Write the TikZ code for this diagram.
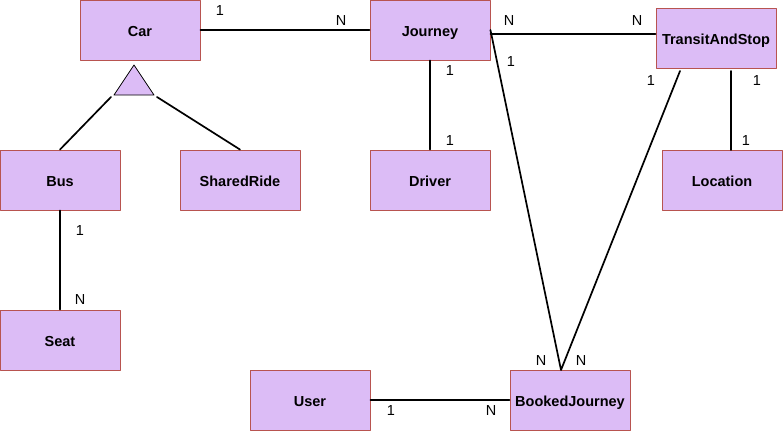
\documentclass[tikz,border=0pt]{standalone}
\usepackage{fontspec}
\setmainfont{Liberation Sans}
\definecolor{boxfill}{HTML}{DCBCF6}
\definecolor{boxline}{HTML}{B85450}
\tikzset{
	entity/.style={draw=boxline,fill=boxfill,line width=.9pt,minimum width=120pt,minimum height=60pt,inner sep=0pt,text height=13.6pt,text depth=0pt,font=\fontsize{14.5}{16}\selectfont\bfseries},
	rel/.style={line width=1.7pt},
	card/.style={inner sep=0pt,font=\fontsize{14.5}{16}\selectfont}
}
\begin{document}
\begin{tikzpicture}[x=1pt,y=-1pt,line join=round,line cap=round]
	\useasboundingbox (0,0) rectangle (783,431);
	\foreach \n/\x/\y/\t in {car/140/30/Car,journey/430/30/Journey,transit/716/38/TransitAndStop,
		bus/60/180/Bus,shared/240/180/SharedRide,driver/430/180/Driver,location/722/180/Location,
		seat/60/340/Seat,user/310/400/User,booked/570/400/BookedJourney}
	\node[entity] (\n) at (\x,\y) {\t};
	\path
	(134,65) coordinate (T)
	(154,95) coordinate (T1)
	(114,95) coordinate (T2)
	(111,97) coordinate (TL)
	(157,97) coordinate (TR)
	(561,370) coordinate (B)
	(680,71) coordinate (S1)
	(731,71) coordinate (S2)
	(731,150) coordinate (L)
	;
	\draw[fill=boxfill,line width=.8pt] (T)--(T1)--(T2)--cycle;
	\draw[rel] (car.east)--(journey.west) (TL)--(bus.north) (TR)--(shared.north)
	(journey.south)--(driver.north) (bus.south)--(seat.north) (user.east)--(booked.west)
	([yshift=-4pt]journey.east)--([yshift=-4pt]journey.east -| transit.west)
	(journey.east)--(B)--(S1) (S2)--(L);
	\foreach \n/\x/\y/\t in {c1/220/11/1,c2/341/21/N,c3/509/21/N,c4/637/21/N,c5/511/62/1,
		c6/450/71/1,c7/450/141/1,c8/651/81/1,c9/757/81/1,c10/746/141/1,c11/80/231/1,
		c12/80/300/N,c13/541/361/N,c14/581/361/N,c15/391/411/1,c16/491/411/N}
	\node[card] (\n) at (\x,\y) {\t};
\end{tikzpicture}
\end{document}
